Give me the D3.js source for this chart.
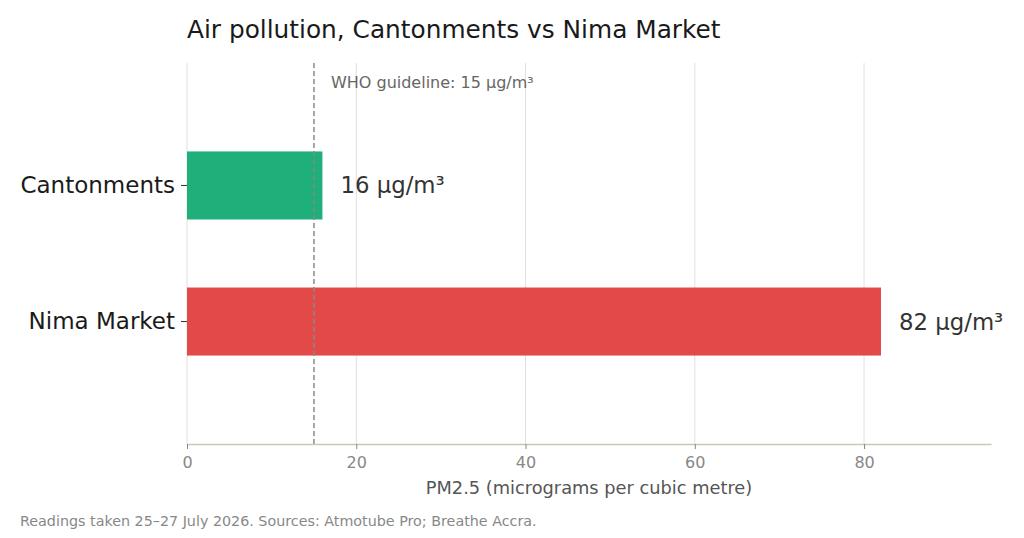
<!DOCTYPE html>
<html>
<head>
<meta charset="utf-8">
<script src="https://cdn.jsdelivr.net/npm/d3@7"></script>
<style>
  body { margin: 0; background: #fff; }
  svg { font-family: "DejaVu Sans", sans-serif; }
</style>
</head>
<body>
<svg id="chart" width="1024" height="538"></svg>
<script>
const sites = ["Cantonments", "Nima Market"];
const pm25 = [16, 82];
const barColors = ["#1eaf7a", "#e24a4a"];
const xTicks = [0, 20, 40, 60, 80];
const whoLimit = 15;

const margin = { left: 187, right: 33, top: 63, bottom: 94 };
const width = 1024, height = 538;

const svg = d3.select("#chart");

const x = d3.scaleLinear().domain([0, 95]).range([margin.left, width - margin.right]);
const y = d3.scaleBand().domain(sites).range([margin.top, height - margin.bottom])
  .paddingInner(0.5).paddingOuter(0.65);

// gridlines
svg.append("g")
  .selectAll("line")
  .data(xTicks)
  .enter()
  .append("line")
  .attr("x1", d => x(d)).attr("x2", d => x(d))
  .attr("y1", margin.top).attr("y2", height - margin.bottom)
  .attr("stroke", "#e2e0da")
  .attr("stroke-width", 1);

// bars
svg.append("g")
  .selectAll("rect")
  .data(sites)
  .enter()
  .append("rect")
  .attr("x", x(0))
  .attr("y", d => y(d))
  .attr("width", (d, i) => x(pm25[i]) - x(0))
  .attr("height", y.bandwidth())
  .attr("fill", (d, i) => barColors[i]);

// WHO guideline
svg.append("line")
  .attr("x1", x(whoLimit)).attr("x2", x(whoLimit))
  .attr("y1", margin.top).attr("y2", height - margin.bottom)
  .attr("stroke", "#888")
  .attr("stroke-width", 1.5)
  .attr("stroke-dasharray", "5,3");

svg.append("text")
  .attr("x", x(whoLimit) + 17)
  .attr("y", 88)
  .attr("font-size", 16)
  .attr("fill", "#666")
  .text("WHO guideline: " + whoLimit + " µg/m³");

// value labels
svg.append("g")
  .selectAll("text")
  .data(sites)
  .enter()
  .append("text")
  .attr("x", (d, i) => x(pm25[i]) + 18)
  .attr("y", d => y(d) + y.bandwidth() / 2)
  .attr("dy", "0.35em")
  .attr("font-size", 22.8)
  .attr("fill", "#333")
  .text((d, i) => pm25[i] + " µg/m³");

// x axis
const xAxis = svg.append("g")
  .attr("transform", "translate(0," + (height - margin.bottom) + ")")
  .call(d3.axisBottom(x).tickValues(xTicks).tickSize(5).tickPadding(8).tickSizeOuter(0));
xAxis.select(".domain").attr("stroke", "#c9c6bb").attr("stroke-width", 1.3);
xAxis.selectAll(".tick line").attr("stroke", "#888");
xAxis.selectAll(".tick text").attr("fill", "#888").attr("font-size", 16)
  .attr("font-family", "DejaVu Sans, sans-serif");

// y axis
const yAxis = svg.append("g")
  .attr("transform", "translate(" + margin.left + ",0)")
  .call(d3.axisLeft(y).tickSize(6).tickPadding(6));
yAxis.select(".domain").remove();
yAxis.selectAll(".tick line").attr("stroke", "#333");
yAxis.selectAll(".tick text").attr("fill", "#1a1a1a").attr("font-size", 23)
  .attr("font-family", "DejaVu Sans, sans-serif");

// axis title
svg.append("text")
  .attr("x", x(95 / 2))
  .attr("y", 494)
  .attr("text-anchor", "middle")
  .attr("font-size", 17.8)
  .attr("fill", "#555")
  .text("PM2.5 (micrograms per cubic metre)");

// title
svg.append("text")
  .attr("x", margin.left)
  .attr("y", 38)
  .attr("font-size", 24.8)
  .attr("fill", "#1a1a1a")
  .text("Air pollution, Cantonments vs Nima Market");

// footer
svg.append("text")
  .attr("x", 20)
  .attr("y", 526)
  .attr("font-size", 14.3)
  .attr("fill", "#888")
  .text("Readings taken 25–27 July 2026. Sources: Atmotube Pro; Breathe Accra.");
</script>
</body>
</html>
